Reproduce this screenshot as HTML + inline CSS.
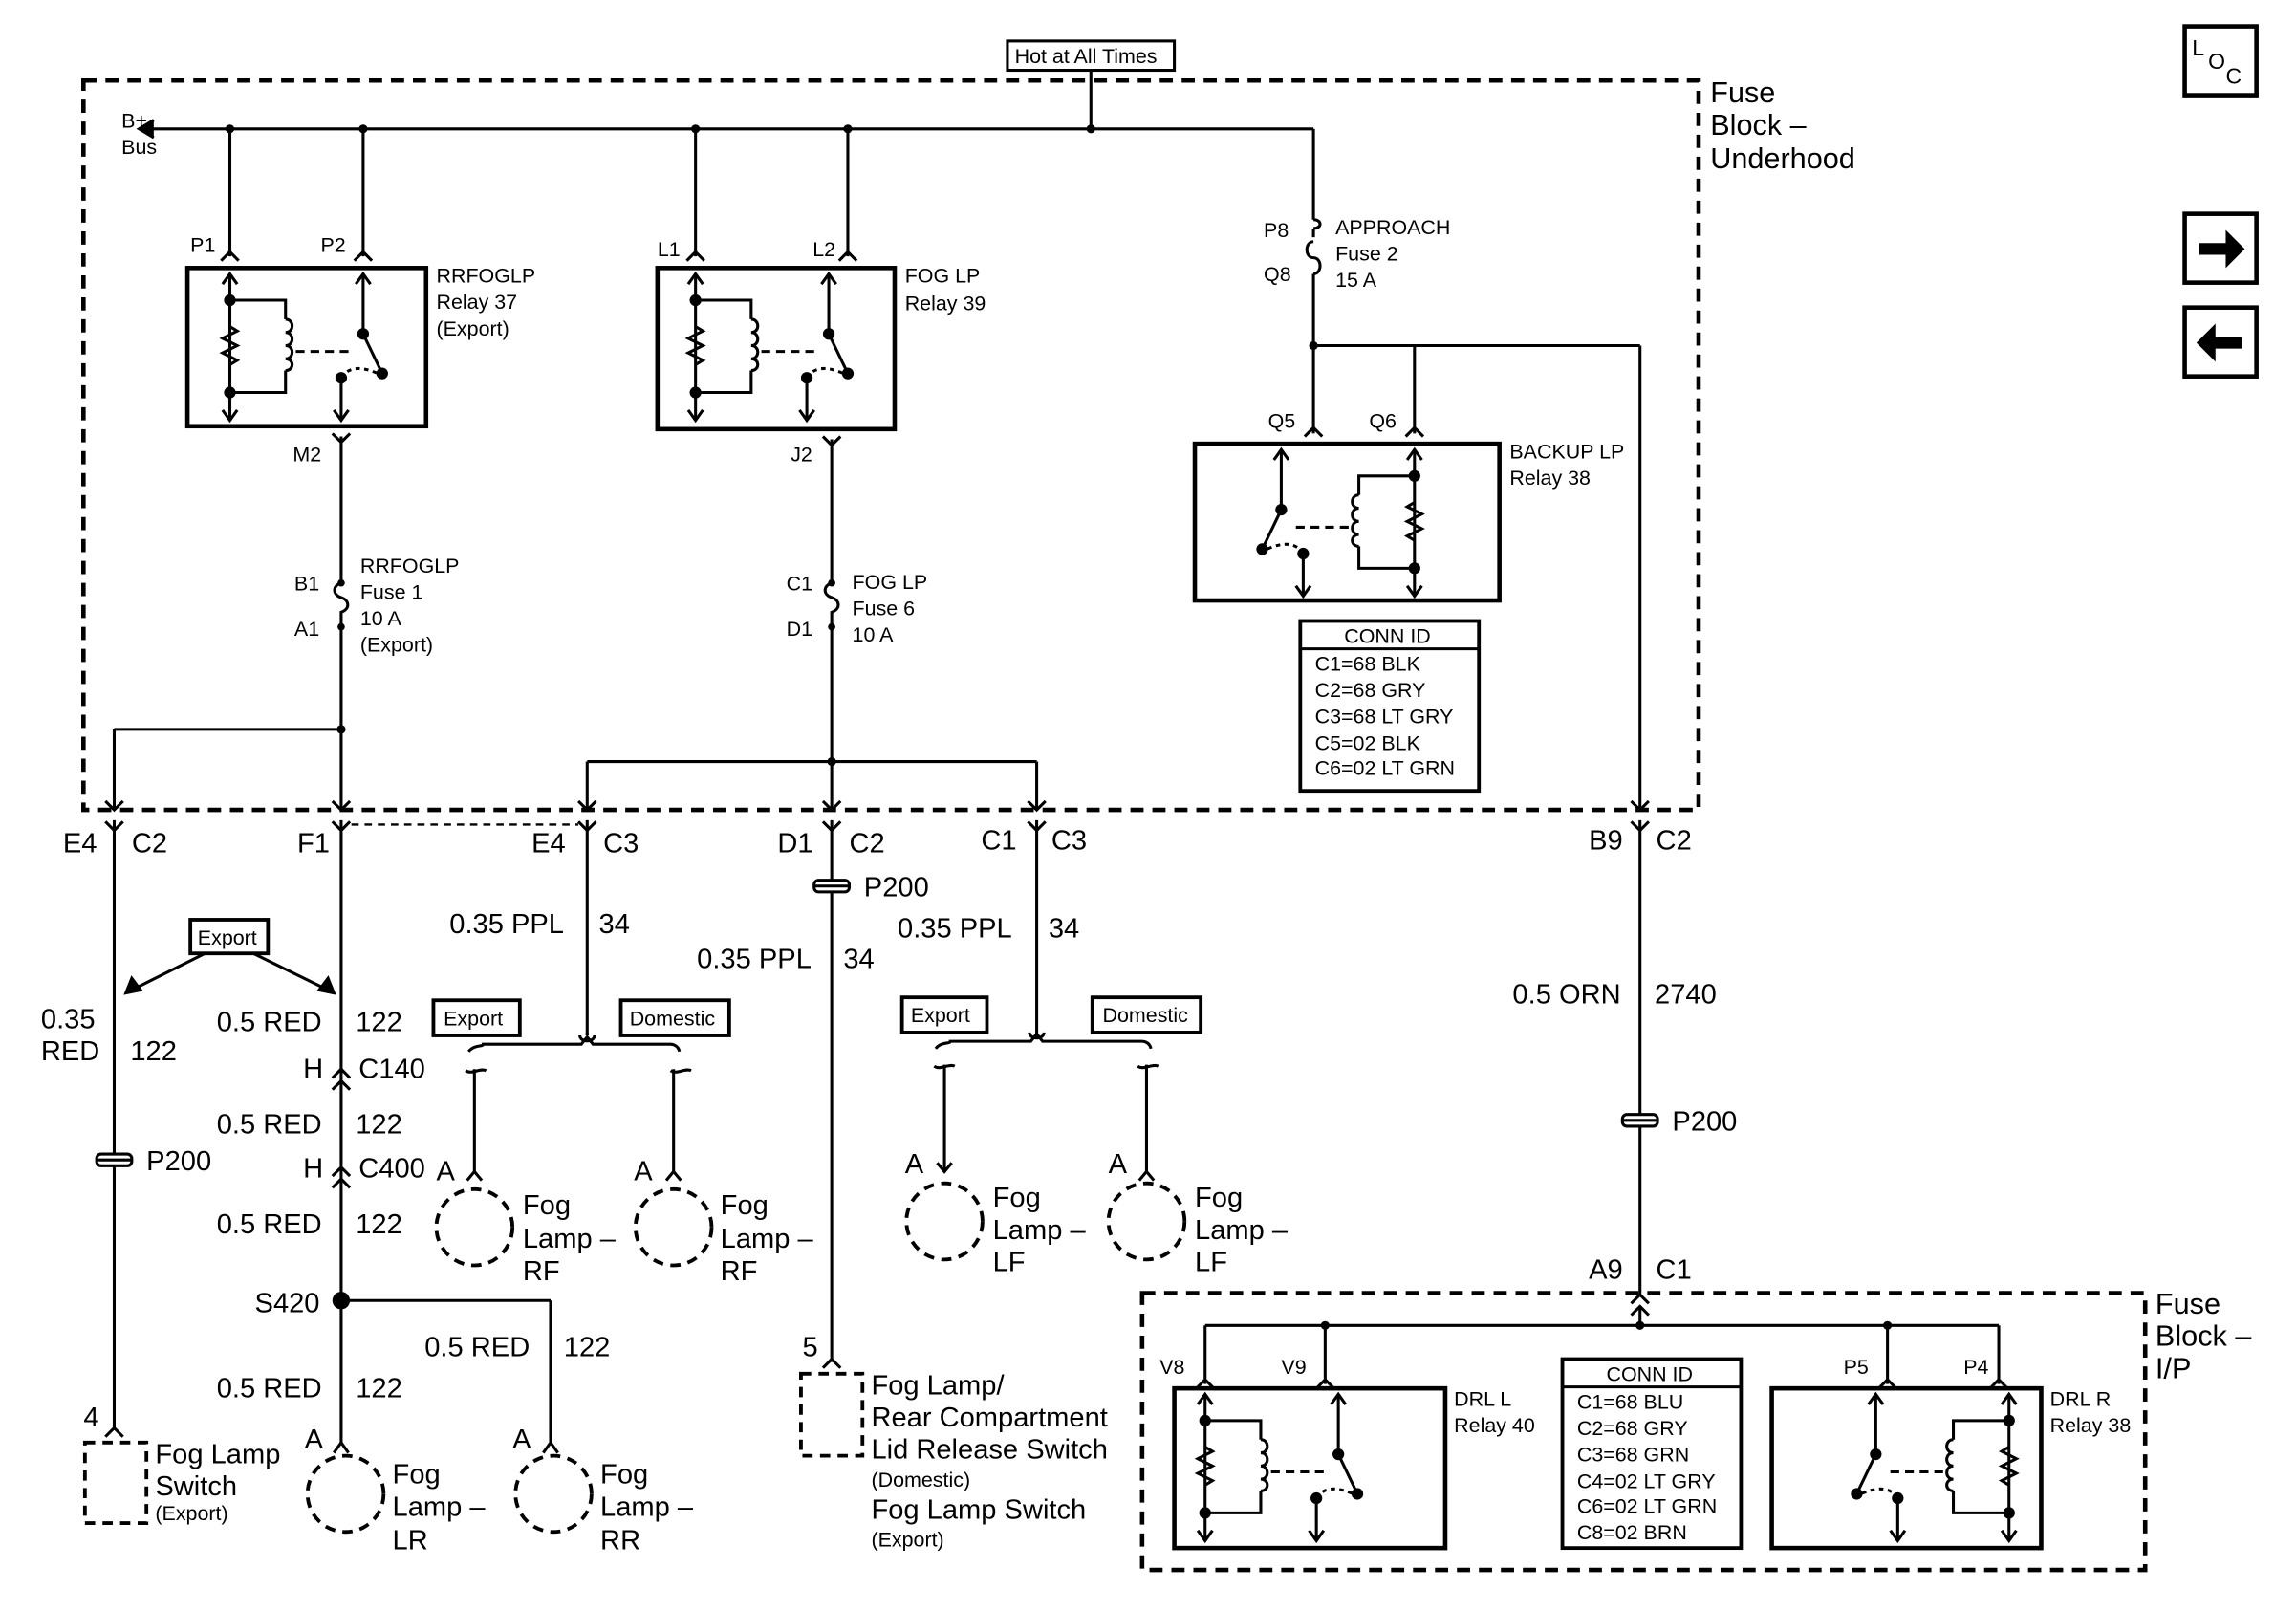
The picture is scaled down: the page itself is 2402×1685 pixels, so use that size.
<!DOCTYPE html>
<html><head><meta charset="utf-8"><style>
html,body{margin:0;padding:0;background:#fff;}
svg{display:block;}
text{font-family:"Liberation Sans",Arial,sans-serif;fill:#000;}
.s{font-size:14px;}
.m{font-size:19px;}
.b{font-size:20px;}
</style></head><body>
<svg width="2402" height="1685" viewBox="0 0 1568 1100" preserveAspectRatio="none" xmlns="http://www.w3.org/2000/svg">
<defs>
<g id="relay" fill="none" stroke="#000" stroke-width="2">
  <line x1="29" y1="4" x2="29" y2="104"/>
  <path d="M24,11 L29,4 L34,11 M24,97 L29,104 L34,97"/>
  <path d="M29,40 l5,3 l-10,5 l10,5 l-10,5 l10,5 l-5,3"/>
  <path d="M29,22 H67 V35 M67,70 V85 H29"/>
  <path d="M67,35 c6,0 6,9 0,9 c6,0 6,9 0,9 c6,0 6,9 0,9 c6,0 6,8 0,8"/>
  <line x1="74" y1="57" x2="112" y2="57" stroke-dasharray="6,4"/>
  <line x1="120" y1="4" x2="120" y2="45"/>
  <path d="M115,11 L120,4 L125,11"/>
  <line x1="120" y1="45" x2="133" y2="72"/>
  <line x1="105" y1="75" x2="105" y2="104"/>
  <path d="M100,97 L105,104 L110,97"/>
  <path d="M105,75 Q112,64 130,72" stroke-dasharray="3,3"/>
  <circle cx="29" cy="22" r="3" fill="#000"/><circle cx="29" cy="85" r="3" fill="#000"/>
  <circle cx="120" cy="45" r="3" fill="#000"/><circle cx="133" cy="72" r="3" fill="#000"/><circle cx="105" cy="75" r="3" fill="#000"/>
</g>
<path id="cu" d="M-6,6 L0,0 L6,6" fill="none" stroke="#000" stroke-width="2"/>
<path id="cd" d="M-6,-6 L0,0 L6,-6" fill="none" stroke="#000" stroke-width="2"/>
<g id="p200" fill="#fff" stroke="#000" stroke-width="2"><rect x="-12" y="-4" width="24" height="8" rx="3"/><line x1="-12" y1="0" x2="12" y2="0"/></g>
</defs>

<g fill="none" stroke="#000" stroke-width="2">
<rect x="57" y="55" width="1103" height="498" stroke-width="3" stroke-dasharray="9,6"/>
<rect x="688" y="28" width="114" height="20"/>
<line x1="745" y1="48" x2="745" y2="88"/>
<line x1="95" y1="88" x2="897" y2="88"/>
<path d="M105,82 L95,88 L105,94" fill="#000"/>
<line x1="157" y1="88" x2="157" y2="175"/><line x1="248" y1="88" x2="248" y2="175"/>
<line x1="475" y1="88" x2="475" y2="175"/><line x1="579" y1="88" x2="579" y2="175"/>
<line x1="897" y1="88" x2="897" y2="150"/>
<path d="M897,150 c6,0 6,6 0,6 M897,156 V162 M897,187 V296"/>
<path d="M897,165 c-6,0 -6,11 0,11 c6,0 6,11 0,11"/>
<line x1="897" y1="236" x2="1120" y2="236"/>
<line x1="1120" y1="236" x2="1120" y2="553"/>
<line x1="966" y1="236" x2="966" y2="296"/>
<rect x="128" y="183" width="163" height="108" stroke-width="3"/>
<rect x="449" y="183" width="162" height="110" stroke-width="3"/>
<rect x="816" y="303" width="208" height="107" stroke-width="3"/>
<line x1="233" y1="298" x2="233" y2="398"/>
<path d="M233,398 c-6,2 -6,8 0,10 c6,2 6,8 0,10 V553"/>
<line x1="78" y1="498" x2="233" y2="498"/><line x1="78" y1="498" x2="78" y2="553"/>
<line x1="568" y1="300" x2="568" y2="398"/>
<path d="M568,398 c-6,2 -6,8 0,10 c6,2 6,8 0,10 V553"/>
<line x1="401" y1="520" x2="708" y2="520"/>
<line x1="401" y1="520" x2="401" y2="553"/><line x1="708" y1="520" x2="708" y2="553"/>
<rect x="888" y="424" width="122" height="116" stroke-width="2.5"/>
<line x1="888" y1="443" x2="1010" y2="443"/>
<rect x="1067" y="928" width="122" height="129" stroke-width="2.5"/>
<line x1="1067" y1="947" x2="1189" y2="947"/>
<line x1="240" y1="563" x2="395" y2="563" stroke-dasharray="5,4" stroke-width="1.5"/>
<line x1="78" y1="560" x2="78" y2="975"/>
<line x1="233" y1="560" x2="233" y2="985"/>
<line x1="401" y1="560" x2="401" y2="707"/>
<line x1="568" y1="560" x2="568" y2="930"/>
<line x1="708" y1="560" x2="708" y2="707"/>
<line x1="1120" y1="560" x2="1120" y2="885"/>
<rect x="130" y="628" width="53" height="23" stroke-width="2.5"/>
<line x1="140" y1="651" x2="88" y2="677"/><line x1="173" y1="651" x2="226" y2="677"/>
<path d="M86,678 l4,-10 l6,8 z M228,678 l-10,-2 l6,-8 z" fill="#000"/>
<line x1="233" y1="888" x2="376" y2="888"/><line x1="376" y1="888" x2="376" y2="985"/>
<rect x="296" y="683" width="59" height="24" stroke-width="2.5"/>
<rect x="424" y="683" width="74" height="24" stroke-width="2.5"/>
<path d="M396,707 c0,5 10,5 10,0 M401,707 V705"/>
<path d="M320,718 C324,713 330,715 330,713 H397 L401,708 L405,713 H458 c0,0 5,0 6,5"/>
<path d="M318,731 c4,3 10,-2 14,0 M458,731 c4,3 10,-2 14,0"/>
<line x1="324" y1="730" x2="324" y2="800"/><line x1="460" y1="730" x2="460" y2="800"/>
<rect x="616" y="681" width="58" height="24" stroke-width="2.5"/>
<rect x="746" y="681" width="74" height="24" stroke-width="2.5"/>
<path d="M703,705 c0,5 10,5 10,0"/>
<path d="M639,716 C643,711 649,713 649,711 H704 L708,706 L712,711 H780 c0,0 5,0 6,5"/>
<path d="M638,728 c4,3 10,-2 14,0 M777,728 c4,3 10,-2 14,0"/>
<line x1="645" y1="727" x2="645" y2="800"/><line x1="783" y1="727" x2="783" y2="800"/>
<g stroke-dasharray="7,5" stroke-width="2.5">
<circle cx="324" cy="838" r="26"/><circle cx="460" cy="838" r="26"/>
<circle cx="645" cy="834" r="26"/><circle cx="783" cy="834" r="26"/>
<circle cx="236" cy="1020" r="26"/><circle cx="378" cy="1020" r="26"/>
<rect x="58" y="985" width="42" height="55"/>
<rect x="547" y="938" width="42" height="56"/>
<rect x="780" y="883" width="685" height="189" stroke-width="3" stroke-dasharray="9,6"/>
</g>
<path d="M319,806 L324,800 L329,806 M455,806 L460,800 L465,806 M640,794 L645,800 L650,794 M778,806 L783,800 L788,806 M228,992 L233,985 L238,992 M371,992 L376,985 L381,992"/>
<line x1="1120" y1="892" x2="1120" y2="905"/>
<line x1="823" y1="905" x2="1365" y2="905"/>
<line x1="823" y1="905" x2="823" y2="945"/><line x1="905" y1="905" x2="905" y2="945"/>
<line x1="1289" y1="905" x2="1289" y2="945"/><line x1="1365" y1="905" x2="1365" y2="945"/>
<rect x="802" y="948" width="185" height="109" stroke-width="3"/>
<rect x="1210" y="948" width="184" height="109" stroke-width="3"/>
<rect x="1492" y="18" width="49" height="47" stroke-width="3"/>
<rect x="1492" y="146" width="49" height="47" stroke-width="3"/>
<rect x="1492" y="210" width="49" height="47" stroke-width="3"/>
</g>
<path d="M1502,166 h18 v-9 l13,13 l-13,13 v-9 h-18z" fill="#000"/>
<path d="M1531,230 h-18 v-9 l-13,13 l13,13 v-9 h18z" fill="#000"/>
<text x="1497" y="38" style="font-size:15px">L</text><text x="1508" y="47" style="font-size:15px">O</text><text x="1520" y="57" style="font-size:15px">C</text>

<use href="#relay" transform="translate(128,183)"/>
<use href="#relay" transform="translate(446,183)"/>
<use href="#relay" transform="translate(995,303) scale(-1,1)"/>
<use href="#relay" transform="translate(794,948)"/>
<use href="#relay" transform="translate(1401,948) scale(-1,1)"/>

<g>
<use href="#cu" x="157" y="172"/><use href="#cu" x="248" y="172"/>
<use href="#cu" x="475" y="172"/><use href="#cu" x="579" y="172"/>
<use href="#cd" x="233" y="302"/><use href="#cd" x="568" y="304"/>
<use href="#cu" x="897" y="292"/><use href="#cu" x="966" y="292"/>
<use href="#cd" x="78" y="553"/><use href="#cd" x="233" y="553"/><use href="#cd" x="401" y="553"/>
<use href="#cd" x="568" y="553"/><use href="#cd" x="708" y="553"/><use href="#cd" x="1120" y="553"/>
<use href="#cd" x="78" y="567"/><use href="#cd" x="233" y="567"/><use href="#cd" x="401" y="567"/>
<use href="#cd" x="568" y="567"/><use href="#cd" x="708" y="567"/><use href="#cd" x="1120" y="567"/>
<use href="#cu" x="233" y="730"/><use href="#cu" x="233" y="738"/>
<use href="#cu" x="233" y="797"/><use href="#cu" x="233" y="805"/>
<use href="#cu" x="78" y="975"/><use href="#cu" x="568" y="928"/>
<use href="#cu" x="1120" y="884"/><use href="#cu" x="1120" y="892"/>
<use href="#cu" x="823" y="942"/><use href="#cu" x="905" y="942"/>
<use href="#cu" x="1289" y="942"/><use href="#cu" x="1365" y="942"/>
<use href="#p200" x="78" y="792"/><use href="#p200" x="568" y="605"/><use href="#p200" x="1120" y="765"/>
</g>
<g fill="#000">
<circle cx="157" cy="88" r="3"/><circle cx="248" cy="88" r="3"/><circle cx="475" cy="88" r="3"/>
<circle cx="579" cy="88" r="3"/><circle cx="745" cy="88" r="3"/><circle cx="897" cy="236" r="3"/>
<circle cx="233" cy="498" r="3"/><circle cx="568" cy="520" r="3"/>
<circle cx="233" cy="398" r="2.5"/><circle cx="233" cy="428" r="2.5"/>
<circle cx="568" cy="398" r="2.5"/><circle cx="568" cy="428" r="2.5"/>
<circle cx="233" cy="888" r="6"/>
<circle cx="905" cy="905" r="3"/><circle cx="1120" cy="905" r="3"/><circle cx="1289" cy="905" r="3"/>
</g>

<text class="s" x="693" y="43">Hot at All Times</text>
<text class="s" x="83" y="87">B+</text><text class="s" x="83" y="105">Bus</text>
<text class="b" x="1168" y="70">Fuse</text><text class="b" x="1168" y="92">Block –</text><text class="b" x="1168" y="115">Underhood</text>
<text class="s" x="130" y="172">P1</text><text class="s" x="219" y="172">P2</text>
<text class="s" x="449" y="175">L1</text><text class="s" x="555" y="175">L2</text>
<text class="s" x="298" y="193">RRFOGLP</text><text class="s" x="298" y="211">Relay 37</text><text class="s" x="298" y="229">(Export)</text>
<text class="s" x="618" y="193">FOG LP</text><text class="s" x="618" y="212">Relay 39</text>
<text class="s" x="200" y="315">M2</text><text class="s" x="540" y="315">J2</text>
<text class="s" x="246" y="391">RRFOGLP</text><text class="s" x="246" y="409">Fuse 1</text><text class="s" x="246" y="427">10 A</text><text class="s" x="246" y="445">(Export)</text>
<text class="s" x="201" y="403">B1</text><text class="s" x="201" y="434">A1</text>
<text class="s" x="582" y="402">FOG LP</text><text class="s" x="582" y="420">Fuse 6</text><text class="s" x="582" y="438">10 A</text>
<text class="s" x="537" y="403">C1</text><text class="s" x="537" y="434">D1</text>
<text class="s" x="863" y="162">P8</text><text class="s" x="863" y="192">Q8</text>
<text class="s" x="912" y="160">APPROACH</text><text class="s" x="912" y="178">Fuse 2</text><text class="s" x="912" y="196">15 A</text>
<text class="s" x="866" y="292">Q5</text><text class="s" x="935" y="292">Q6</text>
<text class="s" x="1031" y="313">BACKUP LP</text><text class="s" x="1031" y="331">Relay 38</text>
<text class="s" x="918" y="439">CONN ID</text>
<text class="s" x="898" y="458">C1=68 BLK</text><text class="s" x="898" y="476">C2=68 GRY</text><text class="s" x="898" y="494">C3=68 LT GRY</text>
<text class="s" x="898" y="512">C5=02 BLK</text><text class="s" x="898" y="529">C6=02 LT GRN</text>

<text class="m" x="43" y="582">E4</text><text class="m" x="90" y="582">C2</text>
<text class="m" x="203" y="582">F1</text>
<text class="m" x="363" y="582">E4</text><text class="m" x="412" y="582">C3</text>
<text class="m" x="531" y="582">D1</text><text class="m" x="580" y="582">C2</text>
<text class="m" x="670" y="580">C1</text><text class="m" x="718" y="580">C3</text>
<text class="m" x="1085" y="580">B9</text><text class="m" x="1131" y="580">C2</text>
<text class="m" x="590" y="612">P200</text>
<text class="s" x="135" y="645">Export</text>
<text class="m" x="307" y="637">0.35 PPL</text><text class="m" x="409" y="637">34</text>
<text class="m" x="476" y="661">0.35 PPL</text><text class="m" x="576" y="661">34</text>
<text class="m" x="613" y="640">0.35 PPL</text><text class="m" x="716" y="640">34</text>
<text class="m" x="1033" y="685">0.5 ORN</text><text class="m" x="1130" y="685">2740</text>
<text class="m" x="28" y="702">0.35</text><text class="m" x="28" y="724">RED</text><text class="m" x="89" y="724">122</text>
<text class="m" x="148" y="704">0.5 RED</text><text class="m" x="243" y="704">122</text>
<text class="s" x="303" y="700">Export</text><text class="s" x="430" y="700">Domestic</text>
<text class="s" x="622" y="698">Export</text><text class="s" x="753" y="698">Domestic</text>
<text class="m" x="207" y="736">H</text><text class="m" x="245" y="736">C140</text>
<text class="m" x="148" y="774">0.5 RED</text><text class="m" x="243" y="774">122</text>
<text class="m" x="100" y="799">P200</text>
<text class="m" x="1142" y="772">P200</text>
<text class="m" x="207" y="804">H</text><text class="m" x="245" y="804">C400</text>
<text class="m" x="298" y="806">A</text><text class="m" x="433" y="806">A</text>
<text class="m" x="618" y="801">A</text><text class="m" x="757" y="801">A</text>
<text class="m" x="357" y="829">Fog</text><text class="m" x="357" y="852">Lamp –</text><text class="m" x="357" y="874">RF</text>
<text class="m" x="492" y="829">Fog</text><text class="m" x="492" y="852">Lamp –</text><text class="m" x="492" y="874">RF</text>
<text class="m" x="678" y="824">Fog</text><text class="m" x="678" y="846">Lamp –</text><text class="m" x="678" y="868">LF</text>
<text class="m" x="816" y="824">Fog</text><text class="m" x="816" y="846">Lamp –</text><text class="m" x="816" y="868">LF</text>
<text class="m" x="148" y="842">0.5 RED</text><text class="m" x="243" y="842">122</text>
<text class="m" x="1085" y="873">A9</text><text class="m" x="1131" y="873">C1</text>
<text class="m" x="174" y="896">S420</text>
<text class="b" x="1472" y="897">Fuse</text><text class="b" x="1472" y="919">Block –</text><text class="b" x="1472" y="941">I/P</text>
<text class="m" x="290" y="926">0.5 RED</text><text class="m" x="385" y="926">122</text>
<text class="m" x="548" y="926">5</text>
<text class="s" x="792" y="938">V8</text><text class="s" x="875" y="938">V9</text>
<text class="s" x="1259" y="938">P5</text><text class="s" x="1341" y="938">P4</text>
<text class="s" x="1097" y="943">CONN ID</text>
<text class="m" x="148" y="954">0.5 RED</text><text class="m" x="243" y="954">122</text>
<text class="m" x="595" y="952">Fog Lamp/</text><text class="m" x="595" y="974">Rear Compartment</text><text class="m" x="595" y="996">Lid Release Switch</text>
<text class="s" x="595" y="1015">(Domestic)</text>
<text class="m" x="595" y="1037">Fog Lamp Switch</text>
<text class="s" x="595" y="1056">(Export)</text>
<text class="s" x="993" y="960">DRL L</text><text class="s" x="993" y="978">Relay 40</text>
<text class="s" x="1400" y="960">DRL R</text><text class="s" x="1400" y="978">Relay 38</text>
<text class="s" x="1077" y="962">C1=68 BLU</text><text class="s" x="1077" y="980">C2=68 GRY</text><text class="s" x="1077" y="998">C3=68 GRN</text>
<text class="s" x="1077" y="1016">C4=02 LT GRY</text><text class="s" x="1077" y="1033">C6=02 LT GRN</text><text class="s" x="1077" y="1051">C8=02 BRN</text>
<text class="m" x="57" y="974">4</text>
<text class="m" x="208" y="989">A</text><text class="m" x="350" y="989">A</text>
<text class="m" x="106" y="999">Fog Lamp</text><text class="m" x="106" y="1021">Switch</text><text class="s" x="106" y="1038">(Export)</text>
<text class="m" x="268" y="1013">Fog</text><text class="m" x="268" y="1035">Lamp –</text><text class="m" x="268" y="1058">LR</text>
<text class="m" x="410" y="1013">Fog</text><text class="m" x="410" y="1035">Lamp –</text><text class="m" x="410" y="1058">RR</text>
</svg>
</body></html>
